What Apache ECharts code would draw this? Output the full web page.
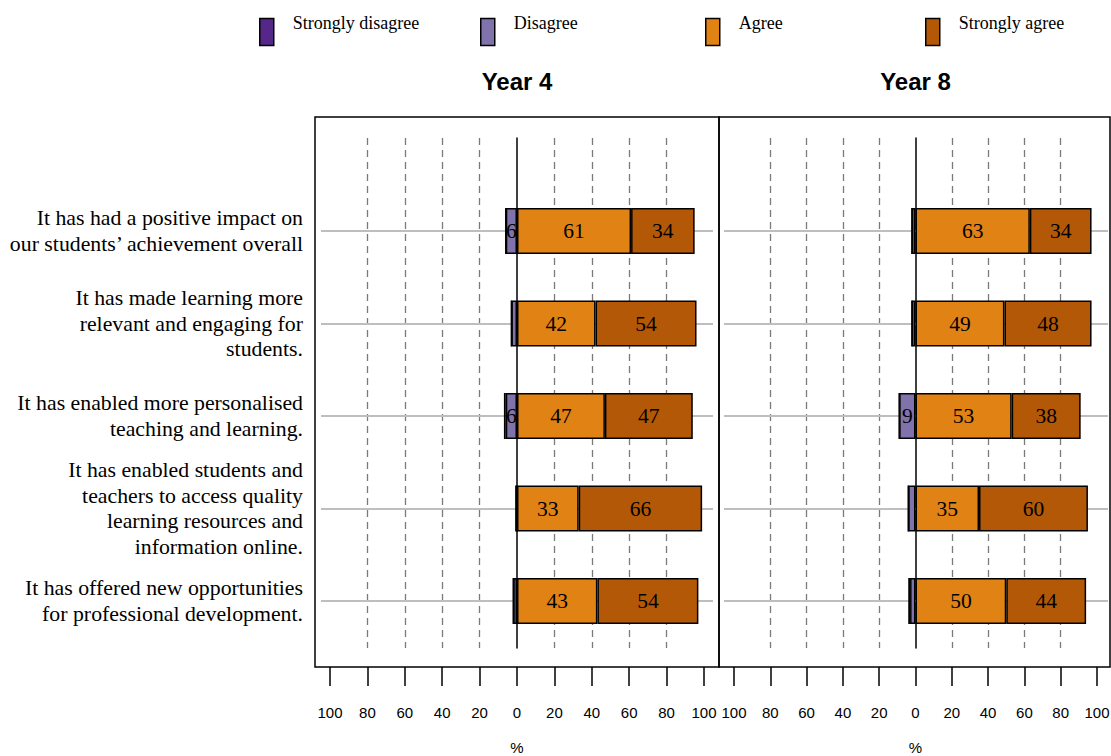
<!DOCTYPE html>
<html>
<head>
<meta charset="utf-8">
<script src="https://cdn.jsdelivr.net/npm/echarts@6/dist/echarts.min.js"></script>
<style>
html,body{margin:0;padding:0;background:#fff;}
#chart{width:1111px;height:756px;}
</style>
</head>
<body>
<div id="chart"></div>
<script>
// ---- data ----
const categories = [
  'It has had a positive impact on\nour students\u2019 achievement overall',
  'It has made learning more\nrelevant and engaging for\nstudents.',
  'It has enabled more personalised\nteaching and learning.',
  'It has enabled students and\nteachers to access quality\nlearning resources and\ninformation online.',
  'It has offered new opportunities\nfor professional development.'
];
const seriesNames = ['Strongly disagree', 'Disagree', 'Agree', 'Strongly agree'];
const panelTitles = ['Year 4', 'Year 8'];

const y4StronglyDisagree = [0, 0, 1, 1, 0];
const y4Disagree         = [6, 3, 6, 0, 2];
const y4Agree            = [61, 42, 47, 33, 43];
const y4StronglyAgree    = [34, 54, 47, 66, 54];

const y8StronglyDisagree = [0, 0, 0, 0, 1];
const y8Disagree         = [2, 2, 9, 4, 3];
const y8Agree            = [63, 49, 53, 35, 50];
const y8StronglyAgree    = [34, 48, 38, 60, 44];

const colors = {
  'Strongly disagree': '#542788',
  'Disagree': '#8073AC',
  'Agree': '#E08214',
  'Strongly agree': '#B35806'
};

const SERIF = 'Liberation Serif, Times New Roman, serif';
const SANS = 'Liberation Sans, Arial, sans-serif';

// panel geometry
const panels = [
  {frameLeft: 315, frameWidth: 404, plotLeft: 330, plotWidth: 374, lineStart: 321, lineLen: 392, labels: true,
   data: {sd: y4StronglyDisagree, d: y4Disagree, a: y4Agree, sa: y4StronglyAgree}},
  {frameLeft: 719, frameWidth: 391, plotLeft: 734, plotWidth: 363, lineStart: 724, lineLen: 384, labels: false,
   data: {sd: y8StronglyDisagree, d: y8Disagree, a: y8Agree, sa: y8StronglyAgree}}
];
const FRAME_TOP = 117, FRAME_H = 550;
const DASH_TOP = 138, DASH_H = 510;
const BAR_TOP = 184.75, BAR_H = 462.5;

const grid = [], xAxis = [], yAxis = [], series = [], title = [];

panels.forEach((p, pi) => {
  const g0 = grid.length;
  // frame grid
  grid.push({left: p.frameLeft, top: FRAME_TOP, width: p.frameWidth, height: FRAME_H,
    outerBoundsMode: 'none', containLabel: false,
    show: true, borderColor: '#000', borderWidth: 1.5, backgroundColor: 'transparent'});
  xAxis.push({gridIndex: g0, type: 'value', show: false, min: 0, max: 1});
  yAxis.push({gridIndex: g0, type: 'value', show: false, min: 0, max: 1});

  // dashed reference lines + ticks grid
  grid.push({left: p.plotLeft, top: DASH_TOP, width: p.plotWidth, height: DASH_H,
    outerBoundsMode: 'none', containLabel: false});
  xAxis.push({gridIndex: g0 + 1, type: 'value', min: -100, max: 100, interval: 20,
    position: 'bottom', offset: 19,
    axisLine: {show: false, onZero: false},
    axisTick: {show: true, length: 19, lineStyle: {color: '#000', width: 1.5}},
    axisLabel: {show: true, margin: 38, color: '#000', fontFamily: SANS, fontSize: 15,
      formatter: v => String(Math.abs(v))},
    splitLine: {show: true, showMinLine: false, showMaxLine: false,
      lineStyle: {type: [7, 5], width: 1.3,
        color: ['#7a7a7a', '#7a7a7a', '#7a7a7a', '#7a7a7a', 'rgba(0,0,0,0)', '#7a7a7a', '#7a7a7a', '#7a7a7a', '#7a7a7a']}},
    name: '%', nameLocation: 'middle', nameGap: 73,
    nameTextStyle: {color: '#000', fontFamily: SANS, fontSize: 15}
  });
  yAxis.push({gridIndex: g0 + 1, type: 'value', min: 0, max: 1,
    axisLine: {show: true, onZero: true, lineStyle: {color: '#000', width: 1.5}},
    axisTick: {show: false}, axisLabel: {show: false}, splitLine: {show: false}});

  // bar grid
  grid.push({left: p.plotLeft, top: BAR_TOP, width: p.plotWidth, height: BAR_H,
    outerBoundsMode: 'none', containLabel: false});
  xAxis.push({gridIndex: g0 + 2, type: 'value', min: -100, max: 100, show: false});
  yAxis.push({gridIndex: g0 + 2, type: 'category', data: categories, inverse: true,
    offset: p.plotLeft - p.lineStart,
    axisLine: {show: false, onZero: false},
    axisTick: {show: true, alignWithLabel: true, inside: true, length: p.lineLen,
      lineStyle: {color: '#bebebe', width: 2}},
    axisLabel: {show: p.labels, margin: 18, color: '#000', fontFamily: SERIF, fontSize: 21.8,
      lineHeight: 25.5, align: 'right'},
    splitLine: {show: false}});

  const stackName = 'stack' + pi;
  const label = {
    show: true, position: 'inside', color: '#000', fontFamily: SERIF, fontSize: 21.5,
    formatter: prm => Math.abs(prm.value) >= 5 ? String(Math.abs(prm.value)) : ''
  };
  const mk = (name, arr, neg) => ({
    name, type: 'bar', stack: stackName, xAxisIndex: g0 + 2, yAxisIndex: g0 + 2,
    barWidth: 46,
    data: arr.map(v => neg ? -v : v),
    itemStyle: {color: colors[name], borderColor: '#000', borderWidth: 1.5},
    label, emphasis: {disabled: true}, animation: false
  });
  series.push(mk('Disagree', p.data.d, true));
  series.push(mk('Strongly disagree', p.data.sd, true));
  series.push(mk('Agree', p.data.a, false));
  series.push(mk('Strongly agree', p.data.sa, false));

  title.push({text: panelTitles[pi], left: p.plotLeft + p.plotWidth / 2, top: 69, padding: 0,
    textAlign: 'center',
    textStyle: {fontFamily: SANS, fontSize: 24, fontWeight: 'bold', color: '#000'}});
});

const legendLefts = [259, 480, 705, 925];
const legend = seriesNames.map((n, i) => ({
  data: [n], left: legendLefts[i], top: 13, padding: 0,
  itemWidth: 14, itemHeight: 27, icon: 'rect', selectedMode: false,
  itemStyle: {borderColor: '#000', borderWidth: 1.5},
  formatter: name => name + '\n\u00a0',
  textStyle: {fontFamily: SERIF, fontSize: 18, lineHeight: 19, color: '#000', padding: [0, 0, 0, 14]}
}));

const chart = echarts.init(document.getElementById('chart'), null, {renderer: 'svg'});
chart.setOption({
  backgroundColor: '#fff',
  animation: false,
  title, legend, grid, xAxis, yAxis, series
});
</script>
</body>
</html>
